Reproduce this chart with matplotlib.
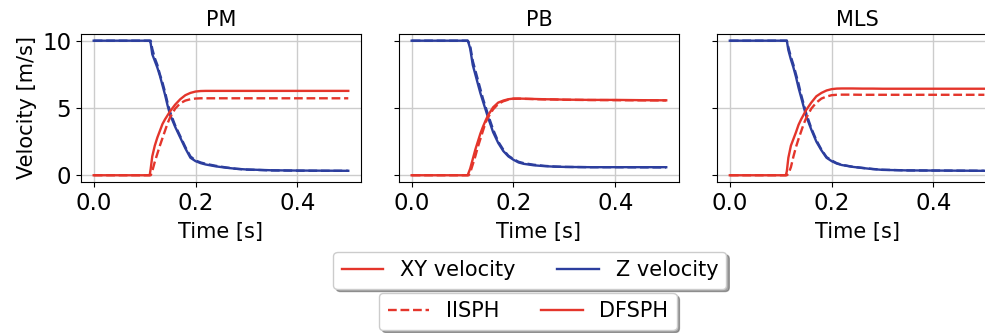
import matplotlib.pyplot as plt
from matplotlib.lines import Line2D

# sample times [s], shared by all curves
t = [0.0, 0.11, 0.112, 0.115, 0.12, 0.125, 0.13, 0.135, 0.14, 0.145, 0.15, 0.16, 0.17,
     0.18, 0.19, 0.2, 0.21, 0.22, 0.24, 0.26, 0.28, 0.3, 0.35, 0.4, 0.45, 0.5]

titles = ['PM', 'PB', 'MLS']

# PM
pm_xy_df = [0, 0, 0.5, 1.4, 2.2, 2.8, 3.3, 3.8, 4.15, 4.45, 4.75, 5.25, 5.65,
            5.95, 6.12, 6.22, 6.26, 6.27, 6.27, 6.27, 6.27, 6.27, 6.27, 6.27, 6.27, 6.27]
pm_xy_ii = [0, 0, 0, 0.3, 1.0, 1.6, 2.2, 2.75, 3.3, 3.85, 4.3, 4.95, 5.35,
            5.55, 5.65, 5.7, 5.72, 5.72, 5.72, 5.72, 5.72, 5.72, 5.72, 5.72, 5.72, 5.72]
pm_z_df = [10, 10, 9.8, 9.0, 8.5, 8.0, 7.4, 6.7, 6.0, 5.2, 4.5, 3.6, 2.8,
           2.0, 1.3, 1.05, 0.9, 0.8, 0.66, 0.56, 0.48, 0.43, 0.37, 0.35, 0.34, 0.33]
pm_z_ii = [10, 10, 10, 9.4, 8.7, 8.2, 7.5, 6.9, 6.2, 5.4, 4.7, 3.7, 2.9,
           2.1, 1.4, 1.1, 0.95, 0.85, 0.7, 0.58, 0.48, 0.42, 0.36, 0.34, 0.33, 0.33]

# PB
pb_xy_df = [0, 0, 0.2, 0.5, 1.2, 1.9, 2.5, 3.1, 3.6, 4.05, 4.45, 5.05, 5.4,
            5.55, 5.65, 5.7, 5.7, 5.69, 5.67, 5.65, 5.64, 5.62, 5.6, 5.6, 5.58, 5.57]
pb_xy_ii = [0, 0, 0, 0.2, 0.8, 1.4, 2.1, 2.7, 3.3, 3.9, 4.3, 4.9, 5.3,
            5.5, 5.62, 5.68, 5.69, 5.68, 5.66, 5.64, 5.63, 5.61, 5.59, 5.58, 5.57, 5.56]
pb_z_df = [10, 10, 9.8, 9.4, 8.2, 7.5, 6.8, 6.1, 5.5, 4.9, 4.3, 3.2, 2.4,
           1.8, 1.4, 1.15, 0.95, 0.85, 0.74, 0.68, 0.64, 0.62, 0.6, 0.6, 0.6, 0.6]
pb_z_ii = [10, 10, 9.9, 9.6, 8.5, 7.8, 7.1, 6.4, 5.7, 5.1, 4.5, 3.4, 2.5,
           1.9, 1.45, 1.2, 1.0, 0.9, 0.78, 0.7, 0.65, 0.62, 0.6, 0.6, 0.59, 0.58]

# MLS
mls_xy_df = [0, 0, 0.3, 1.3, 2.2, 2.7, 3.2, 3.75, 4.15, 4.5, 4.85, 5.4, 5.87,
             6.12, 6.3, 6.4, 6.44, 6.45, 6.45, 6.44, 6.44, 6.43, 6.43, 6.43, 6.43, 6.43]
mls_xy_ii = [0, 0, 0, 0.1, 0.6, 1.4, 2.1, 2.7, 3.25, 3.8, 4.25, 4.95, 5.4,
             5.7, 5.85, 5.95, 5.98, 5.99, 5.99, 5.98, 5.98, 5.98, 5.98, 5.98, 5.98, 5.98]
mls_z_df = [10, 10, 10, 9.3, 8.6, 8.0, 7.3, 6.5, 5.8, 5.1, 4.4, 3.4, 2.5,
            1.85, 1.3, 1.05, 0.87, 0.76, 0.63, 0.54, 0.46, 0.4, 0.36, 0.35, 0.34, 0.33]
mls_z_ii = [10, 10, 10, 9.5, 8.8, 8.2, 7.5, 6.8, 6.0, 5.3, 4.6, 3.5, 2.6,
            1.9, 1.35, 1.1, 0.9, 0.78, 0.64, 0.55, 0.47, 0.41, 0.36, 0.35, 0.34, 0.33]

panels = [(pm_xy_df, pm_xy_ii, pm_z_df, pm_z_ii),
          (pb_xy_df, pb_xy_ii, pb_z_df, pb_z_ii),
          (mls_xy_df, mls_xy_ii, mls_z_df, mls_z_ii)]

red = '#e4352b'
blue = '#2c3e9e'
lw = 1.7

fig = plt.figure(figsize=(9.85, 3.33), dpi=100)
lefts = [0.0822, 0.405, 0.728]
axes = []
for i, left in enumerate(lefts):
    ax = fig.add_axes([left, 0.4535, 0.2843, 0.4445], sharey=axes[0] if axes else None)
    axes.append(ax)
    xy_df, xy_ii, z_df, z_ii = panels[i]
    ax.plot(t, z_ii, color=blue, lw=lw, ls='--')
    ax.plot(t, z_df, color=blue, lw=lw)
    ax.plot(t, xy_ii, color=red, lw=lw, ls='--')
    ax.plot(t, xy_df, color=red, lw=lw)
    ax.grid(True, color='#cccccc', lw=1)
    ax.set_axisbelow(True)
    ax.set_title(titles[i], fontsize=15)
    ax.set_xlabel('Time [s]', fontsize=15, labelpad=5)
    ax.set_xticks([0.0, 0.2, 0.4])
    ax.set_yticks([0, 5, 10])
    ax.tick_params(labelsize=16.5)
    if i > 0:
        ax.tick_params(labelleft=False)

axes[0].set_ylabel('Velocity [m/s]', fontsize=15)

h1 = [Line2D([], [], color=red, lw=lw), Line2D([], [], color=blue, lw=lw)]
leg1 = fig.legend(h1, ['XY velocity', 'Z velocity'], loc='upper center', ncol=2,
                  bbox_to_anchor=(0.538, 0.243), borderaxespad=0, fontsize=15,
                  shadow=True, fancybox=True, columnspacing=2.0)
h2 = [Line2D([], [], color=red, lw=lw, ls='--'), Line2D([], [], color=red, lw=lw)]
leg2 = fig.legend(h2, ['IISPH', 'DFSPH'], loc='upper center', ncol=2,
                  bbox_to_anchor=(0.536, 0.12), borderaxespad=0, fontsize=15,
                  shadow=True, fancybox=True, columnspacing=2.0)

fig.savefig('out.png', dpi=100)
